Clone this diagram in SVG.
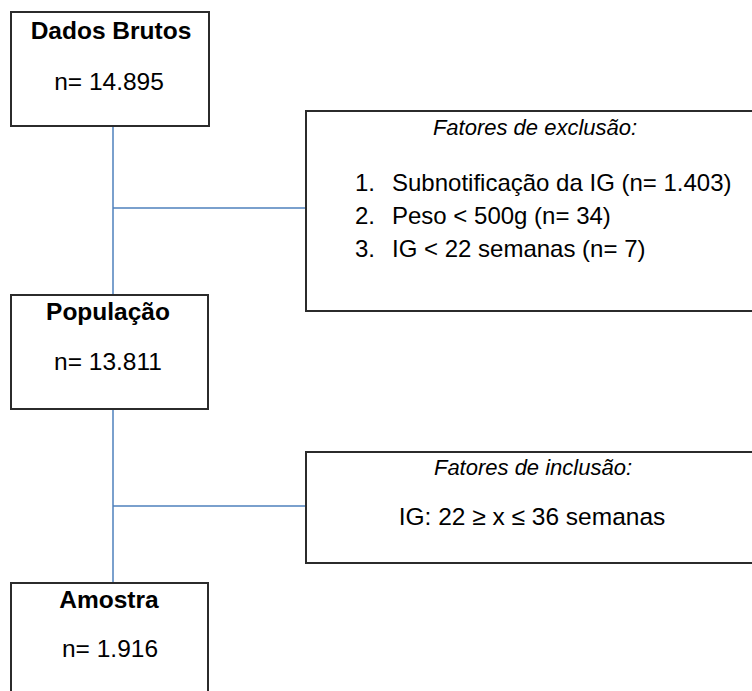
<svg xmlns="http://www.w3.org/2000/svg" width="752" height="691" viewBox="0 0 752 691">
<style>
.box{fill:#fff;stroke:#2b2b2b;stroke-width:2}
.conn{fill:none;stroke:#4f81bd;stroke-width:1.5}
text{font-family:"Liberation Sans",Arial,sans-serif;fill:#000}
.t{font-weight:bold;font-size:24.5px;text-anchor:middle}
.n{font-size:24.5px;text-anchor:middle}
.i{font-style:italic;font-size:22px;text-anchor:middle}
.r{font-size:24px}
</style>
<rect width="752" height="691" fill="#fff"/>
<g id="connectors">
<path class="conn" d="M113 126V295M113 208H306M113 409V583M113 506H306"/>
</g>
<g id="dados-brutos">
<rect class="box" x="11" y="12" width="198" height="114"/>
<text class="t" x="111" y="39">Dados Brutos</text>
<text class="n" x="109" y="90">n= 14.895</text>
</g>
<g id="exclusao">
<rect class="box" x="306" y="111" width="460" height="200"/>
<text class="i" x="535" y="135">Fatores de exclusão:</text>
<text class="r" x="355" y="191">1.</text>
<text class="r" x="392" y="191">Subnotificação da IG (n= 1.403)</text>
<text class="r" x="355" y="224">2.</text>
<text class="r" x="392" y="224">Peso &lt; 500g (n= 34)</text>
<text class="r" x="355" y="257">3.</text>
<text class="r" x="392" y="257">IG &lt; 22 semanas (n= 7)</text>
</g>
<g id="populacao">
<rect class="box" x="11" y="295" width="197" height="114"/>
<text class="t" x="108" y="320">População</text>
<text class="n" x="108" y="370">n= 13.811</text>
</g>
<g id="inclusao">
<rect class="box" x="306" y="452" width="460" height="111"/>
<text class="i" x="533" y="475">Fatores de inclusão:</text>
<text class="n" x="532" y="525">IG: 22 ≥ x ≤ 36 semanas</text>
</g>
<g id="amostra">
<rect class="box" x="11" y="583" width="197" height="130"/>
<text class="t" x="109" y="608">Amostra</text>
<text class="n" x="110" y="657">n= 1.916</text>
</g>
</svg>
